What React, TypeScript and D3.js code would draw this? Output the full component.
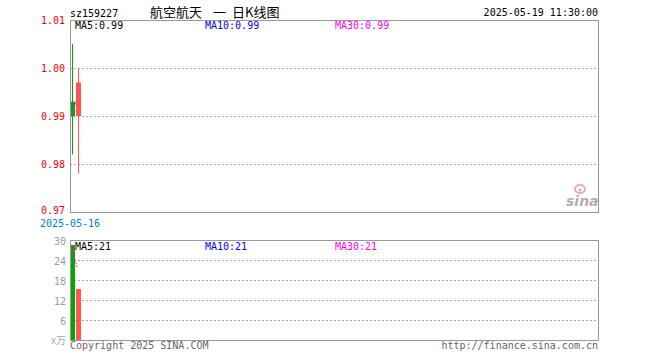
import * as d3 from "d3";

// daily K-line data
const dates = ["2025-05-16", "2025-05-19"];
const opens = [0.993, 0.990];
const closes = [0.990, 0.997];
const highs = [1.005, 1.000];
const lows = [0.982, 0.978];
const volumes = [28.5, 15.3]; // x万

const priceTicks = [1.01, 1.0, 0.99, 0.98, 0.97];
const volTicks = [30, 24, 18, 12, 6];

const maLabels = [
    { name: "MA5", color: "#000000" },
    { name: "MA10", color: "#0000ff" },
    { name: "MA30", color: "#ff00ff" },
];

const UP = "#ff5555";
const DOWN = "#00a800";
const FONT = "'DejaVu Sans Mono', monospace";
const CJK = "'Noto Sans CJK SC', sans-serif";

const movingAvg = (vals: number[], n: number) =>
    vals.map((_, i) => {
        const s = vals.slice(Math.max(0, i - n + 1), i + 1);
        return d3.mean(s) as number;
    });

const App = () => {
    const width = 660;
    const height = 360;
    const left = 70;
    const right = 598;
    const main = { top: 20, bottom: 212 };
    const vol = { top: 240, bottom: 340 };

    // one slot per trading day, 6px each
    const slots = Math.floor((right - left) / 6);
    const x = d3.scaleBand<number>().domain(d3.range(slots)).range([left, left + slots * 6]);
    const y = d3.scaleLinear().domain([0.97, 1.01]).range([main.bottom, main.top]);
    const yv = d3.scaleLinear().domain([0, 30]).range([vol.bottom, vol.top]);

    const ma = movingAvg(closes, 5);
    const vma = movingAvg(volumes, 5);

    const maLine = d3
        .line<number>()
        .x((_, i) => (x(i) as number) + 1)
        .y((d) => y(d));
    const vmaLine = d3
        .line<number>()
        .x((_, i) => (x(i) as number) + 1)
        .y((d) => yv(d));

    const last = closes.length - 1;
    const fmt = d3.format(".2f");

    return (
        <svg
            width={width}
            height={height}
            style={{ position: "absolute", left: 0, top: 0, background: "#fff" }}
            fontFamily={FONT}
            fontSize={10}
        >
            {/* header */}
            <text x={left} y={17}>sz159227</text>
            <g fontFamily={CJK} fontSize={13}>
                <text x={150} y={17}>航空航天</text>
                <text x={213} y={17}>一</text>
                <text x={232} y={17}>日K线图</text>
            </g>
            <text x={right} y={16} textAnchor="end">2025-05-19 11:30:00</text>

            {/* price grid */}
            {priceTicks.map((t) => (
                <g key={t}>
                    {t < 1.01 && t > 0.97 && (
                        <line x1={left} x2={right} y1={y(t) + 0.5} y2={y(t) + 0.5} stroke="#aaa" strokeDasharray="2,2" />
                    )}
                    <text x={65} y={t === 0.97 ? y(t) + 2 : y(t) + 4} textAnchor="end" fill="#ff0000">
                        {fmt(t)}
                    </text>
                </g>
            ))}

            {/* candles */}
            {dates.map((d, i) => {
                const up = closes[i] >= opens[i];
                const c = up ? UP : DOWN;
                const x0 = x(i) as number;
                const top = y(Math.max(opens[i], closes[i]));
                const bot = y(Math.min(opens[i], closes[i]));
                return (
                    <g key={d}>
                        <line x1={x0 + 2.5} x2={x0 + 2.5} y1={y(highs[i])} y2={y(lows[i])} stroke={c} strokeWidth={1} />
                        <rect x={x0} y={top} width={5} height={Math.max(1, bot - top)} fill={c} />
                    </g>
                );
            })}
            <path d={maLine(ma) || ""} fill="none" stroke="#ff00ff" strokeDasharray="2,1" />

            <rect x={left + 0.5} y={main.top + 0.5} width={right - left} height={main.bottom - main.top} fill="none" stroke="#999" strokeWidth={1} />

            {maLabels.map((m, i) => (
                <text key={m.name} x={75 + i * 130} y={29} fill={m.color}>
                    {`${m.name}:${fmt(ma[last])}`}
                </text>
            ))}

            <text x={70} y={227} textAnchor="middle" fill="#0080d0">{dates[0]}</text>

            {/* sina logo */}
            <g>
                <ellipse cx={580} cy={189} rx={5} ry={4} fill="none" stroke="#f4a6a6" strokeWidth={2} />
                <circle cx={580} cy={190} r={1.5} fill="#bbb" />
                <text x={566} y={206} fontFamily="'DejaVu Sans', sans-serif" fontSize={14} fontWeight="bold" fontStyle="italic" fill="#b0b0b0">
                    sina
                </text>
            </g>

            {/* volume */}
            {volTicks.map((t) => (
                <g key={t}>
                    {t < 30 && (
                        <line x1={left} x2={right} y1={yv(t) + 0.5} y2={yv(t) + 0.5} stroke="#aaa" strokeDasharray="2,2" />
                    )}
                    <text x={66} y={yv(t) + 5} textAnchor="end" fill="#999">{t}</text>
                </g>
            ))}
            <text x={66} y={yv(0) + 4} textAnchor="end" fill="#aaa" fontFamily={CJK} fontSize={10}>
                x万
            </text>
            {volumes.map((v, i) => (
                <rect
                    key={dates[i]}
                    x={x(i) as number}
                    y={yv(v)}
                    width={5}
                    height={yv(0) - yv(v)}
                    fill={closes[i] >= opens[i] ? UP : DOWN}
                />
            ))}
            <path d={vmaLine(vma) || ""} fill="none" stroke="#ff00ff" strokeDasharray="2,1" />
            <rect x={left + 0.5} y={vol.top + 0.5} width={right - left} height={vol.bottom - vol.top} fill="none" stroke="#999" strokeWidth={1} />
            {maLabels.map((m, i) => (
                <text key={m.name} x={75 + i * 130} y={250} fill={m.color}>
                    {`${m.name}:${Math.floor(vma[last])}`}
                </text>
            ))}

            {/* footer */}
            <text x={left} y={349} fill="#666">Copyright 2025 SINA.COM</text>
            <text x={right} y={349} textAnchor="end" fill="#666">http://finance.sina.com.cn</text>
        </svg>
    );
};

export default App;
